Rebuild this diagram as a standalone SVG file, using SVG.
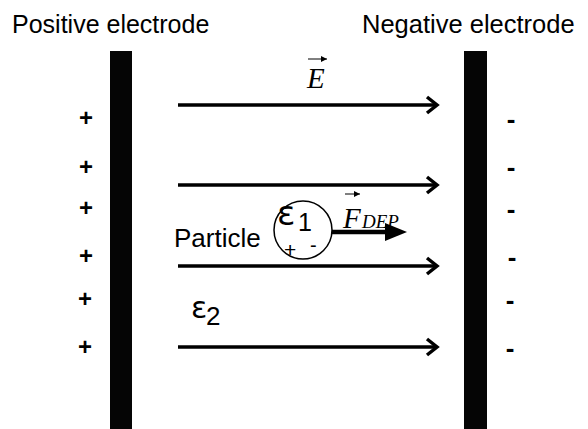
<svg xmlns="http://www.w3.org/2000/svg" width="588" height="429" viewBox="0 0 588 429">
<defs>
<style>
.t{font-family:"Liberation Sans",Arial,sans-serif;fill:#000}
.g{font-family:"DejaVu Sans","Liberation Sans",sans-serif;fill:#000}
.m{font-family:"Liberation Serif","Times New Roman",serif;font-style:italic;fill:#000}
.plus{font-family:"Liberation Sans",Arial,sans-serif;font-weight:bold;font-size:24px;text-anchor:middle}
.minus{font-family:"Liberation Sans",Arial,sans-serif;font-weight:bold;font-size:26px;text-anchor:middle}
.fl{stroke:#000;stroke-width:3.5;fill:none}
.hd{stroke:#000;stroke-width:3.5;fill:none;stroke-linejoin:miter}
</style>
<marker id="v" viewBox="0 0 10 10" refX="10" refY="5" markerWidth="6" markerHeight="6" orient="auto" markerUnits="userSpaceOnUse">
<path d="M0,0 L10,5 L0,10 z" fill="#000"/>
</marker>
</defs>
<rect width="588" height="429" fill="#fff"/>
<g id="positive-electrode">
<rect x="110" y="51" width="22" height="378" fill="#050505"/>
<text class="t" x="12" y="33" font-size="25">Positive electrode</text>
<g class="plus">
<text x="86" y="126">+</text>
<text x="86" y="175">+</text>
<text x="86" y="216">+</text>
<text x="86" y="264">+</text>
<text x="85" y="307">+</text>
<text x="85" y="355">+</text>
</g>
</g>
<g id="negative-electrode">
<rect x="464" y="51" width="23" height="378" fill="#050505"/>
<text class="t" x="362" y="33" font-size="25.5">Negative electrode</text>
<g class="minus">
<text x="511" y="128">-</text>
<text x="511" y="176">-</text>
<text x="511" y="218">-</text>
<text x="512" y="266">-</text>
<text x="510" y="309">-</text>
<text x="510" y="357">-</text>
</g>
</g>
<g id="field-label">
<line x1="308" y1="59" x2="327" y2="59" stroke="#000" stroke-width="1" marker-end="url(#v)"/>
<text class="m" x="307" y="88" font-size="29">E</text>
</g>
<g id="particle">
<circle cx="303" cy="230" r="29" fill="#fff" stroke="#000" stroke-width="1.5"/>
<text class="g" x="277" y="225" font-size="34">ε</text>
<text class="t" x="298" y="231" font-size="25">1</text>
<text class="t" x="284" y="257" font-size="21">+</text>
<text class="t" x="310" y="252" font-size="20">-</text>
<text class="t" x="174" y="247" font-size="26">Particle</text>
</g>
<g id="medium">
<text class="g" x="191" y="318" font-size="30">ε</text>
<text class="t" x="206" y="325" font-size="26">2</text>
</g>
<g id="dep-label">
<line x1="345" y1="194" x2="360" y2="194" stroke="#000" stroke-width="1" marker-end="url(#v)"/>
<text class="m" x="343" y="228" font-size="29">F</text>
<text class="m" x="362" y="228" font-size="19">DEP</text>
</g>
<g id="connectors">
<line class="fl" x1="178" y1="105" x2="436" y2="105"/>
<path class="hd" d="M427,97 L437,105 L427,113"/>
<line class="fl" x1="178" y1="185" x2="436" y2="185"/>
<path class="hd" d="M427,177 L437,185 L427,193"/>
<line class="fl" x1="178" y1="266" x2="436" y2="266"/>
<path class="hd" d="M427,258 L437,266 L427,274"/>
<line class="fl" x1="178" y1="347" x2="436" y2="347"/>
<path class="hd" d="M427,339 L437,347 L427,355"/>
<line x1="332" y1="232" x2="388" y2="232" stroke="#000" stroke-width="4.5"/>
<path d="M385,223 L407,232 L385,241 z" fill="#000"/>
</g>
</svg>
